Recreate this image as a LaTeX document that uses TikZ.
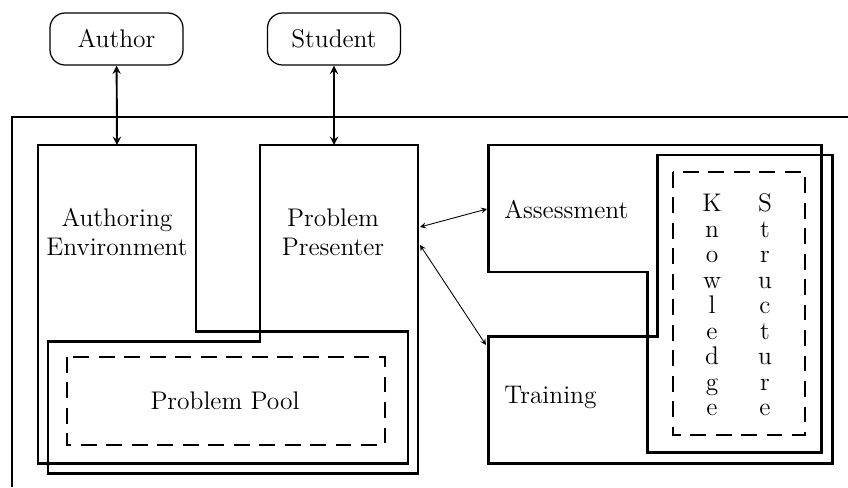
\documentclass[tikz,border=0pt]{standalone}
\usepackage{fontspec}
\usetikzlibrary{shapes.geometric, arrows, positioning}
\tikzstyle{actor} = [rectangle, rounded corners=0.3cm, minimum width=2.66cm, minimum height=1.04cm, text centered, draw=black, line width=0.7pt]
\tikzstyle{frame} = [draw=black, line width=1.1pt]
\tikzstyle{module} = [draw=black, line width=1.7pt]
\tikzstyle{store} = [draw=black, line width=1.5pt, dash pattern=on 9pt off 5.5pt]
\tikzstyle{label} = [text centered, align=center, inner sep=0pt]
\tikzstyle{arrow} = [line width=1.1pt,<->,>=stealth]
\tikzstyle{thinarrow} = [line width=0.5pt,<->,>=stealth]

\begin{document}
\begin{tikzpicture}[x=0.02cm, y=-0.02cm, font=\fontsize{14.5}{16.5}\selectfont]
        \useasboundingbox (0,0) rectangle (848,487);
        % users
        \node (author) [actor] at (116.5,39) {Author};
        \node (student) [actor] at (334,39) {Student};
        % system frame
        \draw [frame] (12,487) -- (12,117) -- (848,117);
        % authoring environment + problem presenter
        \draw [module] (38,145) -- (196,145) -- (196,331) -- (408,331) -- (408,463) -- (38,463) -- cycle;
        \draw [module] (260,145) -- (418,145) -- (418,473) -- (48,473) -- (48,341) -- (260,341) -- cycle;
        \draw [store] (67,357) rectangle (385,445);
        \node (authenv) [label] at (117,232) {Authoring\\Environment};
        \node (presenter) [label] at (333,232) {Problem\\Presenter};
        \node (pool) [label] at (225,401) {Problem Pool};
        % assessment + training
        \draw [module] (488,145) -- (821,145) -- (821,452) -- (647,452) -- (647,272) -- (488,272) -- cycle;
        \draw [module] (488,336) -- (657,336) -- (657,155) -- (832,155) -- (832,463) -- (488,463) -- cycle;
        \draw [store] (673,172) rectangle (805,435);
        \node (assess) [label, anchor=west] at (504,210) {Assessment};
        \node (train) [label, anchor=west] at (504,397) {Training};
        \node (know) [label, font=\fontsize{14.5}{14.5}\selectfont] at (712,305) {K\\n\\o\\w\\l\\e\\d\\g\\e};
        \node (struct) [label, font=\fontsize{14.5}{14.5}\selectfont] at (765,305) {S\\t\\r\\u\\c\\t\\u\\r\\e};
        % connector ends
        \coordinate (ae top) at (117,145);
        \coordinate (pp top) at (334,145);
        \coordinate (pp east1) at (420,227);
        \coordinate (pp east2) at (420,245);
        \coordinate (as west) at (487,209);
        \coordinate (tr west) at (486,345);
        \draw [arrow] (author) -- (ae top);
        \draw [arrow] (student) -- (pp top);
        \draw [thinarrow] (pp east1) -- (as west);
        \draw [thinarrow] (pp east2) -- (tr west);
      \end{tikzpicture}
\end{document}
